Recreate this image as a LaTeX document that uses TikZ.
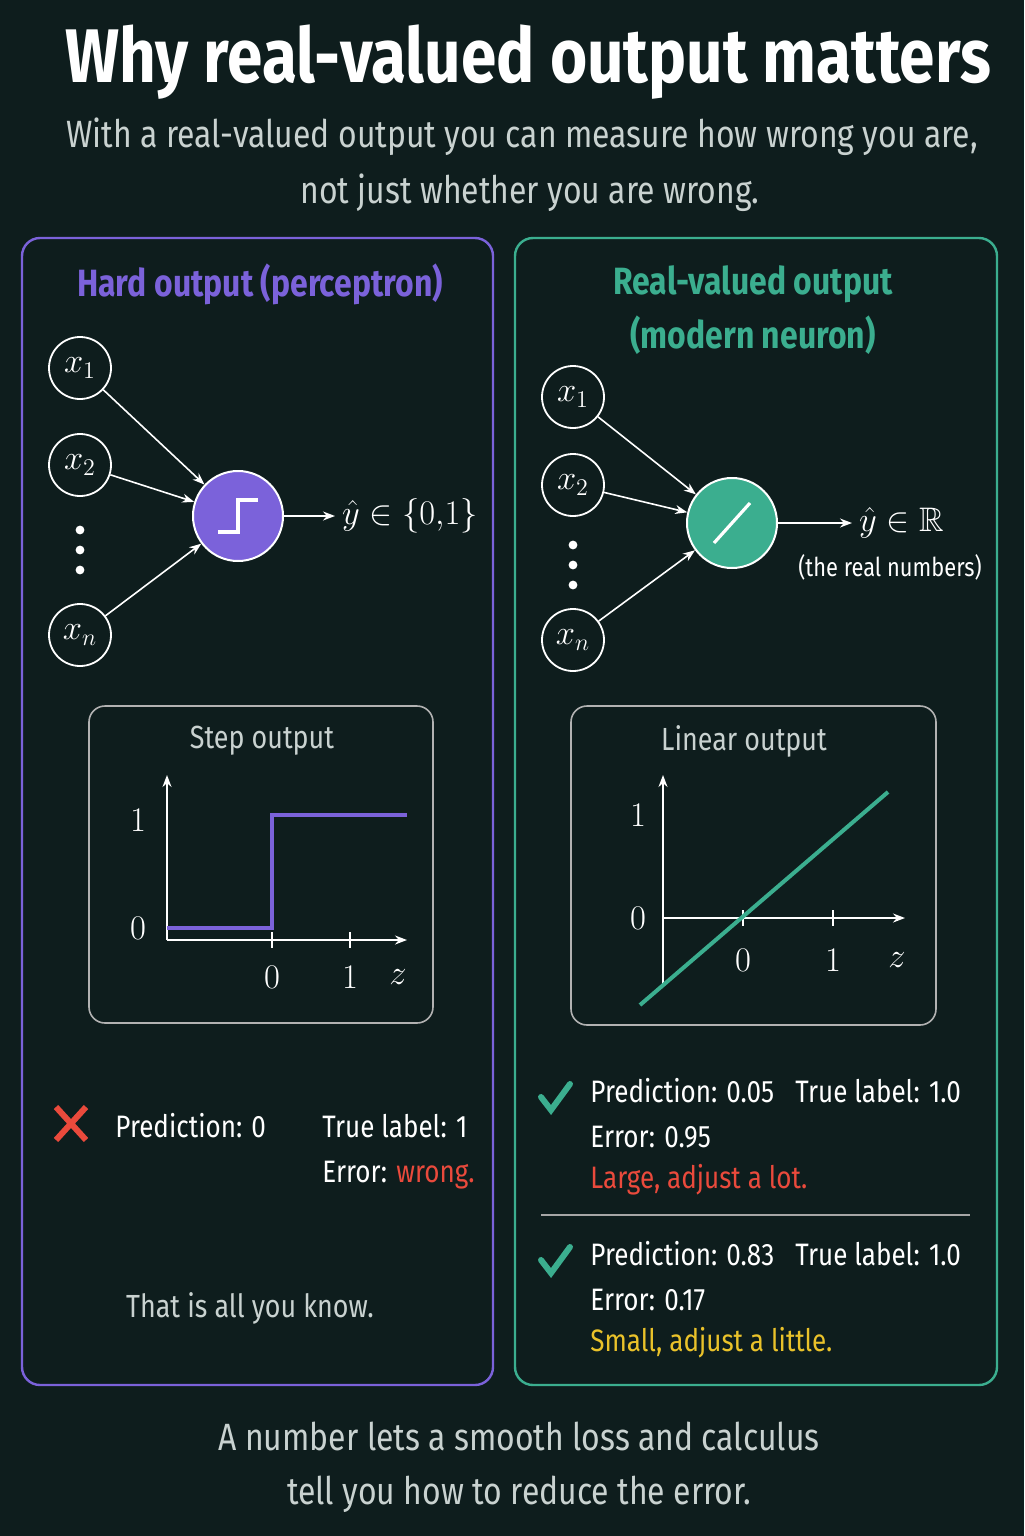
\documentclass[tikz,border=0pt]{standalone}
\usepackage{fontspec}
\usepackage{amsmath}
\usepackage{amssymb}
\setmainfont{Fira Sans}[FakeStretch=0.84]
\usetikzlibrary{arrows.meta}
\definecolor{bg}{HTML}{0E1D1D}
\definecolor{hardc}{HTML}{7B62DA}
\definecolor{realc}{HTML}{3BAE8F}
\definecolor{errred}{HTML}{EA4A3C}
\definecolor{erryel}{HTML}{EAC22A}
\definecolor{soft}{HTML}{C9D2D0}
\newcommand{\fs}[1]{\fontsize{#1}{1.2\dimexpr#1pt\relax}\selectfont}
\tikzset{
  panel/.style={draw=#1, line width=1.2pt, rounded corners=9pt},
  plotbox/.style={draw=gray!60, line width=0.8pt, rounded corners=8pt},
  inp/.style={draw=white, circle, line width=0.9pt, minimum size=31pt, inner sep=0pt, text=white, font=\fs{17}},
  unit/.style={draw=white, circle, line width=1pt, minimum size=45pt, fill=#1},
  wire/.style={white, line width=0.8pt, -{Stealth[length=6pt]}},
  txt/.style={text=white, font=\fs{15.5}, anchor=west, inner sep=0pt},
}
\begin{document}
\begin{tikzpicture}[x=0.5pt, y=-0.5pt]
    \fill[bg] (0,0) rectangle (1024,1536);
    \useasboundingbox (0,0) rectangle (1024,1536);

    \node[text=white, font=\fs{38}\bfseries] (title) at (528,62) {Why real-valued output matters};
    \node[text=soft, font=\fs{19}] (sub1) at (522,137) {With a real-valued output you can measure how wrong you are,};
    \node[text=soft, font=\fs{19}] (sub2) at (530,193) {not just whether you are wrong.};

    % left panel
    \draw[panel=hardc] (22,238) rectangle (493,1385);
    \node[text=hardc, font=\fs{19}\bfseries] (lhead) at (260,284) {Hard output (perceptron)};
    \node[inp] (lx1) at (80,368) {$x_1$};
    \node[inp] (lx2) at (80,465) {$x_2$};
    \node[inp] (lxn) at (80,635) {$x_n$};
    \foreach \y in {530,550,570} \fill[white] (80,\y) circle (2.2pt);
    \node[unit=hardc] (lsum) at (238,516) {};
    \draw[white, line width=1.6pt] ([xshift=-10pt,yshift=-8pt]lsum.center) -- ++(10pt,0) -- ++(0,16pt) -- ++(10pt,0);
    \foreach \s in {lx1,lx2,lxn} \draw[wire] (\s) -- (lsum);
    \node[text=white, font=\fs{17}, anchor=west] (lout) at (335,516) {$\hat{y}\in\{0{,}1\}$};
    \draw[wire] (lsum) -- (lout);

    \draw[plotbox] (89,706) rectangle (433,1023);
    \node[text=soft, font=\fs{16}] (lptitle) at (262,741) {Step output};
    \coordinate (lo) at (167,940);
    \draw[white, line width=0.8pt, -{Stealth[length=6pt]}] (lo) -- (167,775);
    \draw[white, line width=0.8pt, -{Stealth[length=6pt]}] (lo) -- (407,940);
    \foreach \x/\l in {272/0,350/1} {
        \draw[white, line width=0.8pt] (\x,932) -- (\x,948);
        \node[text=white, font=\fs{17}] at (\x,977) {$\l$};
    }
    \node[text=white, font=\fs{17}] at (398,977) {$z$};
    \node[text=white, font=\fs{17}] at (138,820) {$1$};
    \node[text=white, font=\fs{17}] at (138,928) {$0$};
    \draw[hardc, line width=2pt] (167,928) -- (272,928) -- (272,815) -- (407,815);

    \draw[errred, line width=3pt] (56,1107) -- (86,1140) (86,1107) -- (56,1140);
    \node[txt] (lpred) at (115,1126) {Prediction: 0};
    \node[txt] (ltrue) at (322,1126) {True label: 1};
    \node[txt] (lerr) at (322,1175) {Error: \textcolor{errred}{wrong.}};
    \node[text=soft, font=\fs{16}] (lnote) at (250,1308) {That is all you know.};

    % right panel
    \draw[panel=realc] (515,238) rectangle (997,1385);
    \node[text=realc, font=\fs{19}\bfseries, align=center] (rhead) at (753,310) {Real-valued output\\[4pt](modern neuron)};
    \node[inp] (rx1) at (573,397) {$x_1$};
    \node[inp] (rx2) at (573,485) {$x_2$};
    \node[inp] (rxn) at (573,640) {$x_n$};
    \foreach \y in {545,565,585} \fill[white] (573,\y) circle (2.2pt);
    \node[unit=realc] (rsum) at (732,523) {};
    \draw[white, line width=1.6pt] ([xshift=-9pt,yshift=-10pt]rsum.center) -- ([xshift=9pt,yshift=10pt]rsum.center);
    \foreach \s in {rx1,rx2,rxn} \draw[wire] (\s) -- (rsum);
    \node[text=white, font=\fs{17}, anchor=west] (rout) at (852,523) {$\hat{y}\in\mathbb{R}$};
    \draw[wire] (rsum) -- (rout);
    \node[text=white, font=\fs{13}] (rnote) at (890,567) {(the real numbers)};

    \draw[plotbox] (571,706) rectangle (936,1025);
    \node[text=soft, font=\fs{16}] (rptitle) at (744,741) {Linear output};
    \coordinate (ro) at (663,918);
    \draw[white, line width=0.8pt, -{Stealth[length=6pt]}] (663,985) -- (663,775);
    \draw[white, line width=0.8pt, -{Stealth[length=6pt]}] (ro) -- (905,918);
    \foreach \x/\l in {743/0,833/1} {
        \draw[white, line width=0.8pt] (\x,910) -- (\x,926);
        \node[text=white, font=\fs{17}] at (\x,960) {$\l$};
    }
    \node[text=white, font=\fs{17}] at (897,960) {$z$};
    \node[text=white, font=\fs{17}] at (638,815) {$1$};
    \node[text=white, font=\fs{17}] at (638,918) {$0$};
    \draw[realc, line width=2pt] (640,1005) -- (888,792);

    \foreach \y/\p/\e/\c/\m in {1091/0.05/0.95/errred/{Large, adjust a lot.},1254/0.83/0.17/erryel/{Small, adjust a little.}} {
        \draw[realc, line width=3pt, line cap=round] (541,\y+6) -- (551,\y+19) -- (570,\y-7);
        \node[txt] at (590,\y) {Prediction: \p};
        \node[txt] at (795,\y) {True label: 1.0};
        \node[txt] at (590,\y+46) {Error: \e};
        \node[txt, text=\c] at (590,\y+89) {\m};
    }
    \draw[gray!70, line width=0.6pt] (541,1215) -- (970,1215);

    \node[text=soft, font=\fs{19}, align=center] (foot) at (519,1467) {A number lets a smooth loss and calculus\\[4pt]tell you how to reduce the error.};
\end{tikzpicture}
\end{document}
